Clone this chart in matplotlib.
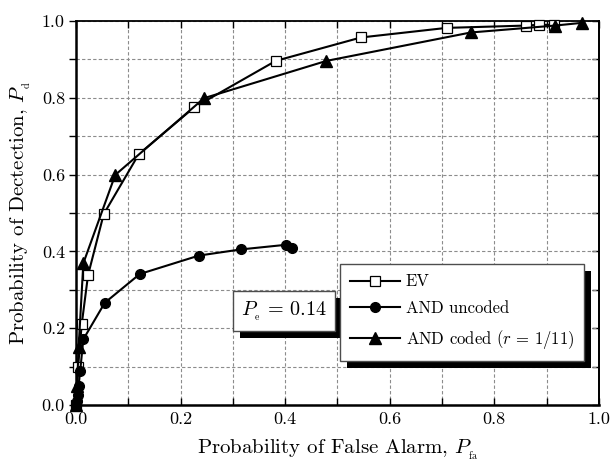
import matplotlib
matplotlib.use("Agg")
import matplotlib.pyplot as plt
from matplotlib.patches import Rectangle
from matplotlib.ticker import MultipleLocator, FormatStrFormatter

plt.rcParams["font.family"] = "serif"
plt.rcParams["font.serif"] = ["cmr10"]
plt.rcParams["mathtext.fontset"] = "cm"
plt.rcParams["axes.formatter.use_mathtext"] = True

# Data
ev_pfa = [0.0, 0.004, 0.011, 0.023, 0.053, 0.12, 0.226, 0.382, 0.545, 0.709, 0.86, 0.885, 0.915]
ev_pd = [0.0, 0.10, 0.211, 0.338, 0.497, 0.653, 0.775, 0.896, 0.957, 0.982, 0.988, 0.99, 0.99]

unc_pfa = [0.0, 0.002, 0.004, 0.005, 0.008, 0.014, 0.055, 0.122, 0.235, 0.315, 0.401, 0.414]
unc_pd = [0.0, 0.01, 0.025, 0.05, 0.089, 0.171, 0.266, 0.341, 0.389, 0.405, 0.417, 0.408]

cod_pfa = [0.0, 0.002, 0.005, 0.014, 0.075, 0.245, 0.479, 0.755, 0.916, 0.967]
cod_pd = [0.0, 0.05, 0.15, 0.369, 0.599, 0.799, 0.896, 0.970, 0.988, 0.995]

fig = plt.figure(figsize=(6.11, 4.66), dpi=100)
ax = fig.add_axes([0.1244, 0.131, 0.8556, 0.824])

ax.plot(ev_pfa, ev_pd, "k-", lw=1.5, marker="s", ms=6.5, mfc="white", mec="k", mew=0.9,
        label="EV", zorder=3, clip_on=False)
ax.plot(unc_pfa, unc_pd, "k-", lw=1.5, marker="o", ms=7, mfc="k", mec="k",
        label="AND uncoded", zorder=3, clip_on=False)
ax.plot(cod_pfa, cod_pd, "k-", lw=1.5, marker="^", ms=8, mfc="k", mec="k",
        label=r"AND coded ($r\,=\,1/11$)", zorder=3, clip_on=False)

ax.set_xlim(0, 1)
ax.set_ylim(0, 1)
ax.xaxis.set_major_locator(MultipleLocator(0.2))
ax.yaxis.set_major_locator(MultipleLocator(0.2))
ax.xaxis.set_minor_locator(MultipleLocator(0.1))
ax.yaxis.set_minor_locator(MultipleLocator(0.1))
ax.xaxis.set_major_formatter(FormatStrFormatter("%.1f"))
ax.yaxis.set_major_formatter(FormatStrFormatter("%.1f"))
ax.grid(True, which="both", ls=(0, (3, 2)), color="0.55", lw=0.8)
ax.set_axisbelow(True)

ax.tick_params(which="both", labelsize=13, length=5, width=1.0)
ax.tick_params(axis="x", which="both", direction="in", top=True, pad=5)
ax.tick_params(axis="y", which="both", direction="out", right=False, pad=3)
for sp in ax.spines.values():
    sp.set_linewidth(1.3)
ax.spines["left"].set_linewidth(1.8)
ax.spines["bottom"].set_linewidth(1.8)

# right-hand ticks point inwards, unlike the left ones
rax = ax.secondary_yaxis("right")
rax.yaxis.set_major_locator(MultipleLocator(0.1))
rax.tick_params(direction="in", length=5, width=1.0, labelright=False)
rax.spines["right"].set_linewidth(1.3)

ax.set_xlabel(r"Probability of False Alarm, $P_{_\mathrm{fa}}$", fontsize=15, labelpad=8)
ax.set_ylabel(r"Probability of Dectection, $P_{_\mathrm{d}}$", fontsize=15, labelpad=6)

leg = ax.legend(loc="upper left", bbox_to_anchor=(0.505, 0.367), borderaxespad=0,
                fontsize=12, handlelength=3.0, handletextpad=0.35, borderpad=0.6,
                labelspacing=0.7, fancybox=False, framealpha=1, edgecolor="0.3")
leg.get_frame().set_linewidth(1.0)
leg.set_zorder(6)

txt = ax.text(0.398, 0.245, r"$P_{_\mathrm{e}}\,=\,0.14$", transform=ax.transAxes,
              fontsize=14.5, ha="center", va="center", zorder=6,
              bbox=dict(boxstyle="square,pad=0.42", fc="white", ec="0.3", lw=1.0))

# black drop shadows behind the legend and the text box
fig.canvas.draw()
inv = ax.transAxes.inverted()
dx, dy = 7 / 523, 7 / 384
for bb in [leg.get_frame().get_window_extent(), txt.get_bbox_patch().get_window_extent()]:
    b = bb.transformed(inv)
    ax.add_patch(Rectangle((b.x0 + dx, b.y0 - dy), b.width, b.height, clip_on=False,
                           transform=ax.transAxes, fc="k", ec="none", zorder=5.5))

fig.savefig("out.png", dpi=100)
